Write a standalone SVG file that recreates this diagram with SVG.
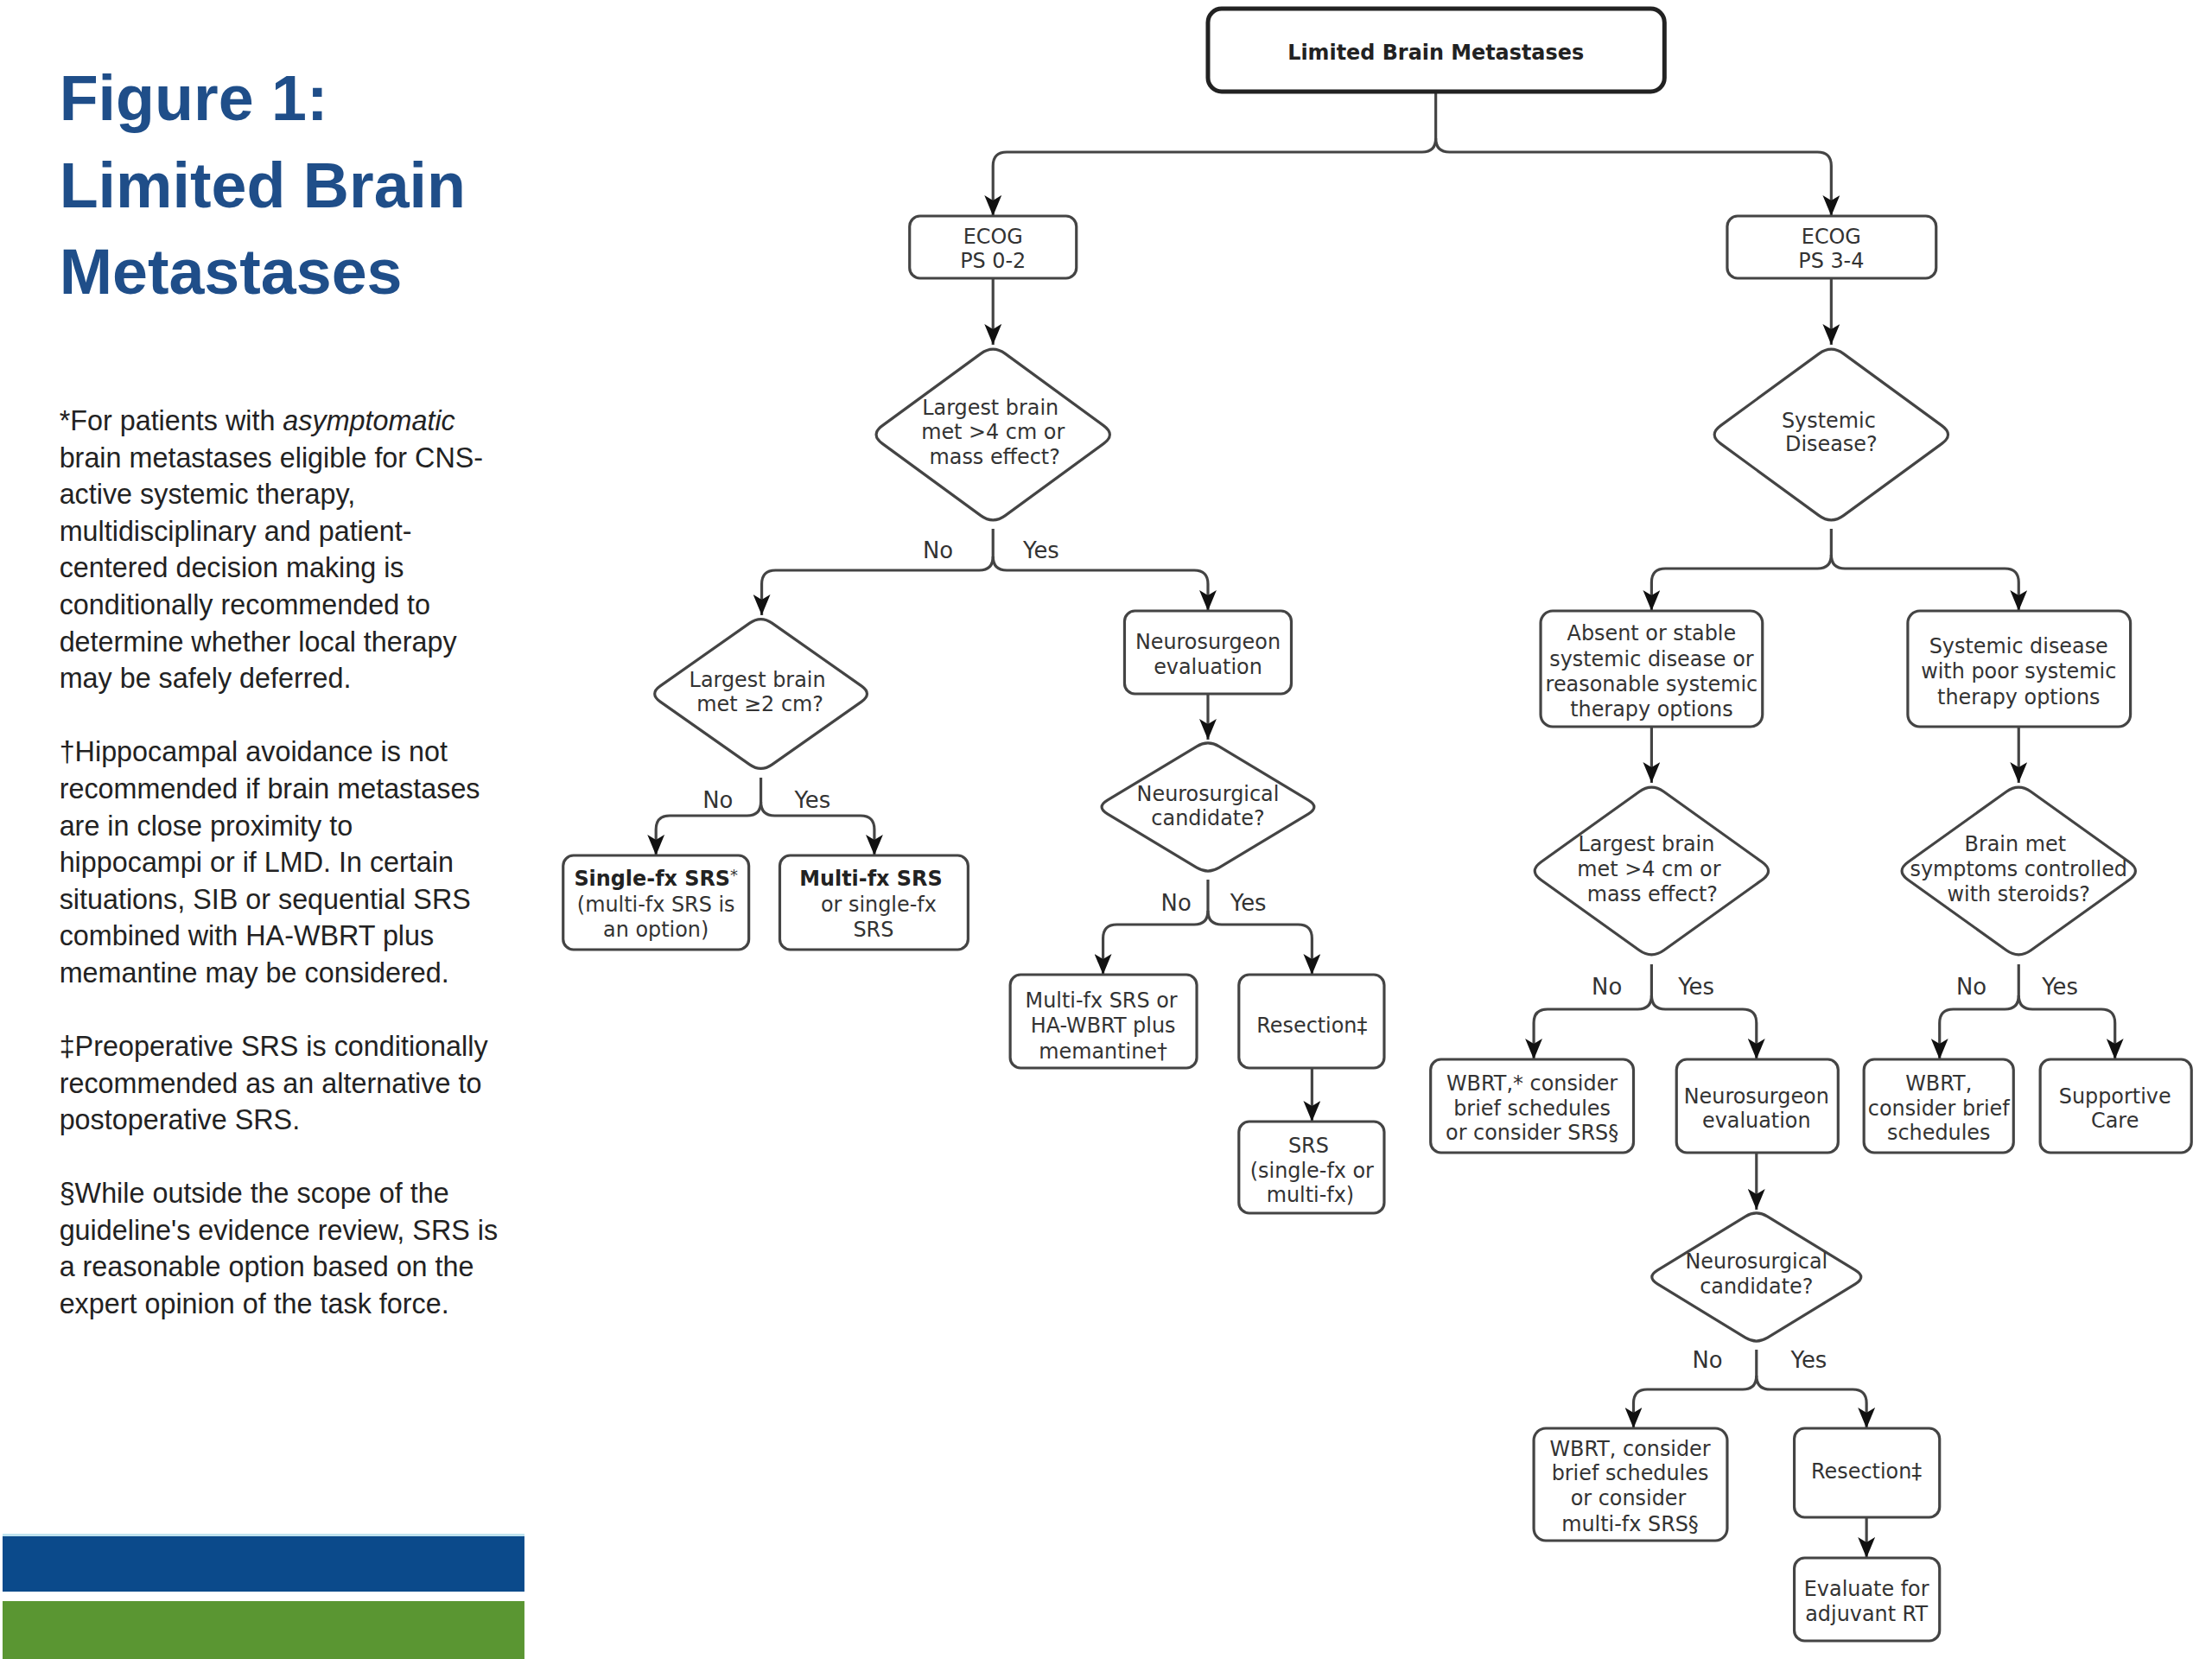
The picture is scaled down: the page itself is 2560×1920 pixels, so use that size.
<svg xmlns="http://www.w3.org/2000/svg" width="2560" height="1920" viewBox="0 0 2560 1920">
<defs>
<marker id="arr" viewBox="0 0 24 20" refX="24" refY="10" markerWidth="24" markerHeight="20" markerUnits="userSpaceOnUse" orient="auto">
<path d="M0,0 L24,10 L0,20 L6,10 Z" fill="#111"/>
</marker>
<style>
.bx{fill:#fff;stroke:#444;stroke-width:3.2}
.dm{fill:#fff;stroke:#444;stroke-width:3.2}
.t{font-family:"DejaVu Sans",Verdana,sans-serif;font-size:24px;fill:#333;text-anchor:middle}
.lb{font-family:"DejaVu Sans",Verdana,sans-serif;font-size:26px;fill:#333;text-anchor:middle}
.b{font-weight:bold;fill:#222}
.c{fill:none;stroke:#444;stroke-width:3.2;marker-end:url(#arr)}
.ttl{font-family:"Liberation Sans",Arial,sans-serif;font-weight:bold;font-size:74px;fill:#1f4e89}
.nt{font-family:"Liberation Sans",Arial,sans-serif;font-size:32.5px;fill:#222}
</style>
</defs>
<rect width="2560" height="1920" fill="#fff"/>
<g transform="scale(0.995,1)">
<g id="sidebar">
<rect x="3" y="1777" width="607" height="65" fill="#0b4a8b"/>
<rect x="3" y="1775" width="607" height="3" fill="#bfe3ef"/>
<rect x="3" y="1853" width="607" height="67" fill="#5a9632"/>
<text class="ttl" x="69" y="139">Figure 1:</text>
<text class="ttl" x="69" y="240">Limited Brain</text>
<text class="ttl" x="69" y="340">Metastases</text>
<text class="nt" x="69" y="498">*For patients with <tspan font-style="italic">asymptomatic</tspan></text>
<text class="nt" x="69" y="541">brain metastases eligible for CNS-</text>
<text class="nt" x="69" y="583">active systemic therapy,</text>
<text class="nt" x="69" y="626">multidisciplinary and patient-</text>
<text class="nt" x="69" y="668">centered decision making is</text>
<text class="nt" x="69" y="711">conditionally recommended to</text>
<text class="nt" x="69" y="754">determine whether local therapy</text>
<text class="nt" x="69" y="796">may be safely deferred.</text>
<text class="nt" x="69" y="881">†Hippocampal avoidance is not</text>
<text class="nt" x="69" y="924">recommended if brain metastases</text>
<text class="nt" x="69" y="967">are in close proximity to</text>
<text class="nt" x="69" y="1009">hippocampi or if LMD. In certain</text>
<text class="nt" x="69" y="1052">situations, SIB or sequential SRS</text>
<text class="nt" x="69" y="1094">combined with HA-WBRT plus</text>
<text class="nt" x="69" y="1137">memantine may be considered.</text>
<text class="nt" x="69" y="1222">‡Preoperative SRS is conditionally</text>
<text class="nt" x="69" y="1265">recommended as an alternative to</text>
<text class="nt" x="69" y="1307">postoperative SRS.</text>
<text class="nt" x="69" y="1392">§While outside the scope of the</text>
<text class="nt" x="69" y="1435">guideline's evidence review, SRS is</text>
<text class="nt" x="69" y="1477">a reasonable option based on the</text>
<text class="nt" x="69" y="1520">expert opinion of the task force.</text>
</g>

<g id="connectors">
<path class="c" d="M1670,107 V160 Q1670,176 1654,176 H1171 Q1155,176 1155,192 V250"/>
<path class="c" d="M1670,160 Q1670,176 1686,176 H2114 Q2130,176 2130,192 V250"/>
<path class="c" d="M1155,322 V399"/>
<path class="c" d="M2130,322 V399"/>
<path class="c" d="M1155,612 V644 Q1155,660 1139,660 H902 Q886,660 886,676 V712"/>
<path class="c" d="M1155,644 Q1155,660 1171,660 H1389 Q1405,660 1405,676 V707"/>
<path class="c" d="M1405,803 V856"/>
<path class="c" d="M885,900 V928 Q885,944 869,944 H779 Q763,944 763,960 V990"/>
<path class="c" d="M885,928 Q885,944 901,944 H1001 Q1017,944 1017,960 V990"/>
<path class="c" d="M1405,1018 V1054 Q1405,1070 1389,1070 H1299 Q1283,1070 1283,1086 V1128"/>
<path class="c" d="M1405,1054 Q1405,1070 1421,1070 H1510 Q1526,1070 1526,1086 V1128"/>
<path class="c" d="M1526,1236 V1298"/>
<path class="c" d="M2130,612 V642 Q2130,658 2114,658 H1937 Q1921,658 1921,674 V707"/>
<path class="c" d="M2130,642 Q2130,658 2146,658 H2332 Q2348,658 2348,674 V707"/>
<path class="c" d="M1921,841 V906"/>
<path class="c" d="M2348,841 V906"/>
<path class="c" d="M1921,1116 V1152 Q1921,1168 1905,1168 H1800 Q1784,1168 1784,1184 V1226"/>
<path class="c" d="M1921,1152 Q1921,1168 1937,1168 H2027 Q2043,1168 2043,1184 V1226"/>
<path class="c" d="M2348,1116 V1152 Q2348,1168 2332,1168 H2272 Q2256,1168 2256,1184 V1226"/>
<path class="c" d="M2348,1152 Q2348,1168 2364,1168 H2444 Q2460,1168 2460,1184 V1226"/>
<path class="c" d="M2043,1334 V1400"/>
<path class="c" d="M2043,1562 V1592 Q2043,1608 2027,1608 H1916 Q1900,1608 1900,1624 V1653"/>
<path class="c" d="M2043,1592 Q2043,1608 2059,1608 H2155 Q2171,1608 2171,1624 V1653"/>
<path class="c" d="M2171,1756 V1803"/>
<text class="lb" x="1091" y="646">No</text>
<text class="lb" x="1211" y="646">Yes</text>
<text class="lb" x="835" y="935">No</text>
<text class="lb" x="945" y="935">Yes</text>
<text class="lb" x="1368" y="1054">No</text>
<text class="lb" x="1452" y="1054">Yes</text>
<text class="lb" x="1869" y="1151">No</text>
<text class="lb" x="1973" y="1151">Yes</text>
<text class="lb" x="2293" y="1151">No</text>
<text class="lb" x="2396" y="1151">Yes</text>
<text class="lb" x="1986" y="1583">No</text>
<text class="lb" x="2104" y="1583">Yes</text>
</g>

<g id="n-top">
<rect x="1405" y="10" width="531" height="96" rx="16" fill="#fff" stroke="#222" stroke-width="5"/>
<text class="t b" x="1670" y="69" font-size="28">Limited Brain Metastases</text>
</g>
<g id="n-ecog02">
<rect class="bx" x="1058" y="250" width="194" height="72" rx="12"/>
<text class="t" x="1155" y="282">ECOG</text>
<text class="t" x="1155" y="310">PS 0-2</text>
</g>
<g id="n-ecog34">
<rect class="bx" x="2009" y="250" width="243" height="72" rx="12"/>
<text class="t" x="2130" y="282">ECOG</text>
<text class="t" x="2130" y="310">PS 3-4</text>
</g>
<g id="n-d1">
<path class="dm" d="M1169.3,409.4 L1283.7,492.6 Q1298,503 1283.7,513.4 L1169.3,596.6 Q1155,607 1140.7,596.6 L1026.3,513.4 Q1012,503 1026.3,492.6 L1140.7,409.4 Q1155,399 1169.3,409.4 Z"/>
<text class="t" x="1152" y="480">Largest brain</text>
<text class="t" x="1155" y="508">met &gt;4 cm or</text>
<text class="t" x="1157" y="537">mass effect?</text>
</g>
<g id="n-d2">
<path class="dm" d="M898,721.1 L1002,793.9 Q1015,803 1002,812.1 L898,884.9 Q885,894 872,884.9 L768,812.1 Q755,803 768,793.9 L872,721.1 Q885,712 898,721.1 Z"/>
<text class="t" x="881" y="795">Largest brain</text>
<text class="t" x="884" y="823">met ≥2 cm?</text>
</g>
<g id="n-neuro1">
<rect class="bx" x="1308" y="707" width="194" height="96" rx="12"/>
<text class="t" x="1405" y="751">Neurosurgeon</text>
<text class="t" x="1405" y="780">evaluation</text>
</g>
<g id="n-d3">
<path class="dm" d="M1418,863.8 L1522,926.2 Q1535,934 1522,941.8 L1418,1004.2 Q1405,1012 1392,1004.2 L1288,941.8 Q1275,934 1288,926.2 L1392,863.8 Q1405,856 1418,863.8 Z"/>
<text class="t" x="1405" y="927">Neurosurgical</text>
<text class="t" x="1405" y="955">candidate?</text>
</g>
<g id="n-single">
<rect class="bx" x="655" y="990" width="216" height="109" rx="12"/>
<text class="t" x="763" y="1025"><tspan class="b">Single-fx SRS</tspan><tspan font-size="18" dy="-6">*</tspan></text>
<text class="t" x="763" y="1055">(multi-fx SRS is</text>
<text class="t" x="763" y="1084">an option)</text>
</g>
<g id="n-multi">
<rect class="bx" x="907" y="990" width="219" height="109" rx="12"/>
<text class="t b" x="1013" y="1025">Multi-fx SRS</text>
<text class="t" x="1022" y="1055">or single-fx</text>
<text class="t" x="1016" y="1084">SRS</text>
</g>
<g id="n-multiha">
<rect class="bx" x="1175" y="1128" width="217" height="108" rx="12"/>
<text class="t" x="1281" y="1166">Multi-fx SRS or</text>
<text class="t" x="1283" y="1195">HA-WBRT plus</text>
<text class="t" x="1283" y="1225">memantine†</text>
</g>
<g id="n-resect1">
<rect class="bx" x="1441" y="1128" width="169" height="108" rx="12"/>
<text class="t" x="1526" y="1195">Resection‡</text>
</g>
<g id="n-srs">
<rect class="bx" x="1441" y="1298" width="169" height="106" rx="12"/>
<text class="t" x="1522" y="1334">SRS</text>
<text class="t" x="1526" y="1363">(single-fx or</text>
<text class="t" x="1524" y="1391">multi-fx)</text>
</g>
<g id="n-d4">
<path class="dm" d="M2144.3,409.4 L2258.7,492.6 Q2273,503 2258.7,513.4 L2144.3,596.6 Q2130,607 2115.7,596.6 L2001.3,513.4 Q1987,503 2001.3,492.6 L2115.7,409.4 Q2130,399 2144.3,409.4 Z"/>
<text class="t" x="2127" y="495">Systemic</text>
<text class="t" x="2130" y="522">Disease?</text>
</g>
<g id="n-absent">
<rect class="bx" x="1792" y="707" width="258" height="134" rx="14"/>
<text class="t" x="1921" y="741">Absent or stable</text>
<text class="t" x="1921" y="771">systemic disease or</text>
<text class="t" x="1921" y="800">reasonable systemic</text>
<text class="t" x="1921" y="829">therapy options</text>
</g>
<g id="n-syspoor">
<rect class="bx" x="2219" y="707" width="259" height="134" rx="14"/>
<text class="t" x="2348" y="756">Systemic disease</text>
<text class="t" x="2348" y="785">with poor systemic</text>
<text class="t" x="2348" y="815">therapy options</text>
</g>
<g id="n-d5">
<path class="dm" d="M1935.3,916.2 L2049.7,997.8 Q2064,1008 2049.7,1018.2 L1935.3,1099.8 Q1921,1110 1906.7,1099.8 L1792.3,1018.2 Q1778,1008 1792.3,997.8 L1906.7,916.2 Q1921,906 1935.3,916.2 Z"/>
<text class="t" x="1915" y="985">Largest brain</text>
<text class="t" x="1918" y="1014">met &gt;4 cm or</text>
<text class="t" x="1922" y="1043">mass effect?</text>
</g>
<g id="n-d6">
<path class="dm" d="M2362.3,916.2 L2476.7,997.8 Q2491,1008 2476.7,1018.2 L2362.3,1099.8 Q2348,1110 2333.7,1099.8 L2219.3,1018.2 Q2205,1008 2219.3,997.8 L2333.7,916.2 Q2348,906 2362.3,916.2 Z"/>
<text class="t" x="2344" y="985">Brain met</text>
<text class="t" x="2348" y="1014">symptoms controlled</text>
<text class="t" x="2348" y="1043">with steroids?</text>
</g>
<g id="n-wbrt1">
<rect class="bx" x="1664" y="1226" width="236" height="108" rx="12"/>
<text class="t" x="1782" y="1262">WBRT,* consider</text>
<text class="t" x="1782" y="1291">brief schedules</text>
<text class="t" x="1782" y="1319">or consider SRS§</text>
</g>
<g id="n-neuro2">
<rect class="bx" x="1950" y="1226" width="188" height="108" rx="12"/>
<text class="t" x="2043" y="1277">Neurosurgeon</text>
<text class="t" x="2043" y="1305">evaluation</text>
</g>
<g id="n-wbrt2">
<rect class="bx" x="2168" y="1226" width="174" height="108" rx="12"/>
<text class="t" x="2255" y="1262">WBRT,</text>
<text class="t" x="2255" y="1291">consider brief</text>
<text class="t" x="2255" y="1319">schedules</text>
</g>
<g id="n-supportive">
<rect class="bx" x="2373" y="1226" width="176" height="108" rx="12"/>
<text class="t" x="2460" y="1277">Supportive</text>
<text class="t" x="2460" y="1305">Care</text>
</g>
<g id="n-d7">
<path class="dm" d="M2055.8,1407.8 L2158.2,1470.2 Q2171,1478 2158.2,1485.8 L2055.8,1548.2 Q2043,1556 2030.2,1548.2 L1927.8,1485.8 Q1915,1478 1927.8,1470.2 L2030.2,1407.8 Q2043,1400 2055.8,1407.8 Z"/>
<text class="t" x="2043" y="1468">Neurosurgical</text>
<text class="t" x="2043" y="1497">candidate?</text>
</g>
<g id="n-wbrt3">
<rect class="bx" x="1784" y="1653" width="225" height="130" rx="14"/>
<text class="t" x="1896" y="1685">WBRT, consider</text>
<text class="t" x="1896" y="1713">brief schedules</text>
<text class="t" x="1894" y="1742">or consider</text>
<text class="t" x="1896" y="1772">multi-fx SRS§</text>
</g>
<g id="n-resect2">
<rect class="bx" x="2087" y="1653" width="169" height="103" rx="12"/>
<text class="t" x="2171" y="1711">Resection‡</text>
</g>
<g id="n-evaluate">
<rect class="bx" x="2087" y="1803" width="169" height="96" rx="12"/>
<text class="t" x="2171" y="1847">Evaluate for</text>
<text class="t" x="2171" y="1876">adjuvant RT</text>
</g>
</g>
</svg>
